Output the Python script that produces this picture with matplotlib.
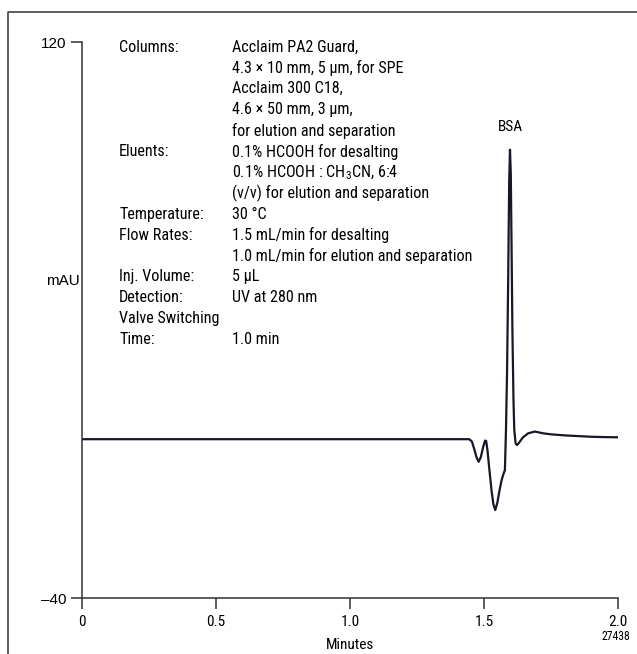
import matplotlib
matplotlib.use("Agg")
import matplotlib.pyplot as plt
from matplotlib import font_manager
from matplotlib.lines import Line2D

# pick a narrow font if one is installed
names = {f.name for f in font_manager.fontManager.ttflist}
narrow = 'Liberation Sans'
for cand in ['Liberation Sans Narrow', 'DejaVu Sans Condensed', 'Roboto Condensed']:
    if cand in names:
        narrow = cand
        break
print('narrow font:', narrow)
plt.rcParams['font.family'] = [narrow, 'DejaVu Sans']

# chromatogram (min, mAU)
time_min = [0.0, 1.40, 1.445, 1.455, 1.465, 1.472, 1.480, 1.488, 1.497, 1.504,
            1.508, 1.513, 1.520, 1.528, 1.535, 1.542, 1.550, 1.558, 1.566, 1.574,
            1.578, 1.582, 1.586, 1.590, 1.594, 1.597, 1.600, 1.603, 1.606, 1.610,
            1.613, 1.618, 1.623, 1.630, 1.645, 1.665, 1.690, 1.720, 1.750, 1.800,
            1.850, 1.900, 1.950, 2.000]
signal = [5.7, 5.7, 5.7, 5.0, 2.5, 0.5, -0.8, 0.5, 3.5, 5.3,
          5.2, 2.5, -3.0, -9.0, -13.0, -14.7, -12.5, -9.0, -6.0, -4.0,
          -3.2, 8.3, 25.0, 50.0, 80.0, 89.0, 82.0, 60.0, 37.0, 17.0,
          8.3, 4.5, 4.0, 4.6, 6.2, 7.4, 7.9, 7.4, 7.1, 6.8,
          6.6, 6.4, 6.3, 6.25]

x_ticks = [0, 0.5, 1.0, 1.5, 2.0]
x_tick_labels = ['0', '0.5', '1.0', '1.5', '2.0']
y_ticks = [-40, 120]
y_tick_labels = ['\u201340', '120']

cond_labels = ['Columns:', '', '', '', '', 'Eluents:', '', '', 'Temperature:',
               'Flow Rates:', '', 'Inj. Volume:', 'Detection:', 'Valve Switching', 'Time:']
cond_values = ['Acclaim PA2 Guard,',
               '4.3 \u00d7 10 mm, 5 \u00b5m, for SPE',
               'Acclaim 300 C18,',
               '4.6 \u00d7 50 mm, 3 \u00b5m,',
               'for elution and separation',
               '0.1% HCOOH for desalting',
               '0.1% HCOOH : CH$_\\mathregular{3}$CN, 6:4',
               '(v/v) for elution and separation',
               '30 \u00b0C',
               '1.5 mL/min for desalting',
               '1.0 mL/min for elution and separation',
               '5 \u00b5L',
               'UV at 280 nm',
               '',
               '1.0 min']

fig = plt.figure(figsize=(6.37, 6.54), dpi=100)
ax = fig.add_axes([82 / 637, 1 - 598 / 654, 536 / 637, 556 / 654])

ax.plot(time_min, signal, color='#141828', lw=1.6, solid_joinstyle='round')

ax.set_xlim(0, 2.0)
ax.set_ylim(-40, 120)
ax.spines['top'].set_visible(False)
ax.spines['right'].set_visible(False)
for s in ['left', 'bottom']:
    ax.spines[s].set_color('#333333')
    ax.spines[s].set_linewidth(1.1)
ax.set_xticks(x_ticks)
ax.set_xticklabels(x_tick_labels)
ax.set_yticks(y_ticks)
ax.set_yticklabels(y_tick_labels, family=['Liberation Sans', 'DejaVu Sans'])
ax.tick_params(direction='out', length=8, width=1.1, color='#333333',
               labelsize=11, pad=3)
ax.tick_params(axis='x', pad=4)
ax.set_xlabel('Minutes', fontsize=11, labelpad=7)
ax.set_ylabel('mAU', fontsize=11, rotation=0, va='center',
              family=['Liberation Sans', 'DejaVu Sans'])
ax.yaxis.set_label_coords(-0.035, 0.57)

ax.text(1.598, 93.5, 'BSA', ha='center', va='bottom', fontsize=11)

# conditions block, in pixel rows from the top of the figure
for i, (lab, val) in enumerate(zip(cond_labels, cond_values)):
    y = 1 - (47 + i * 20.9) / 654
    fig.text(119 / 637, y, lab, ha='left', va='center', fontsize=11.6)
    fig.text(232 / 637, y, val, ha='left', va='center', fontsize=11.6)

fig.text(616 / 637, 1 - 637 / 654, '27438', ha='center', va='center', fontsize=8.5)

# frame around the figure (left and top only)
fx = 8 / 637
fy = 1 - 12 / 654
fig.add_artist(Line2D([fx, fx, 1], [0, fy, fy], transform=fig.transFigure,
                      color='#333333', lw=1.1))

fig.savefig('out.png', dpi=100)
